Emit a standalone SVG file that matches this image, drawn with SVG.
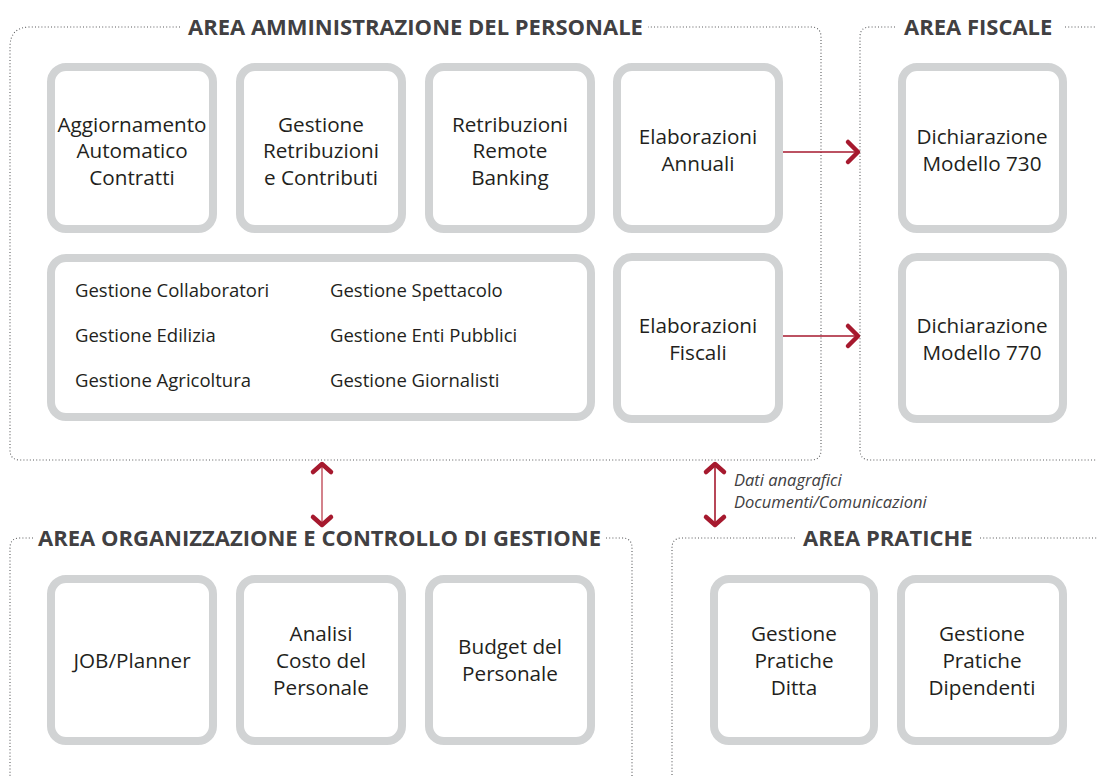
<svg xmlns="http://www.w3.org/2000/svg" width="1097" height="776" viewBox="0 0 1097 776">
<style>
.area{fill:none;stroke:#58595b;stroke-width:1.1;stroke-dasharray:1 2.2}
.title{font-family:"Open Sans","Noto Sans",sans-serif;font-weight:700;font-size:22px;fill:#414042}
.box{fill:#fff;stroke:#d1d3d4;stroke-width:8}
.t{font-family:"Open Sans","Noto Sans",sans-serif;font-size:20.7px;fill:#231f20;text-anchor:middle}
.s{font-family:"Open Sans","Noto Sans",sans-serif;font-size:18.5px;fill:#231f20}
.lbl{font-family:"Open Sans","Noto Sans",sans-serif;font-size:16.5px;font-style:italic;fill:#414042}
.ln{fill:none;stroke:#a6192e;stroke-width:1.6}
.ln2{fill:none;stroke:#c9636f;stroke-width:1.6}
.hd{fill:none;stroke:#a6192e;stroke-width:4.5;stroke-linecap:round;stroke-linejoin:round}
</style>
<rect width="1097" height="776" fill="#fff"/>
<g id="area-amministrazione">
<path class="area" d="M180,27 H30 Q10,27 10,47 V450 Q10,460 20,460 H811 Q821,460 821,450 V37 Q821,27 811,27 H648"/>
<text class="title" x="188" y="35">AREA AMMINISTRAZIONE DEL PERSONALE</text>
</g>
<g id="area-fiscale">
<path class="area" d="M895,27 H870 Q860,27 860,37 V450 Q860,460 870,460 H1097"/>
<path class="area" d="M1065,27 H1097"/>
<text class="title" x="904" y="35">AREA FISCALE</text>
</g>
<g id="area-organizzazione">
<path class="area" d="M33,538 H20 Q10,538 10,548 V776"/>
<path class="area" d="M606,538 H622 Q632,538 632,548 V776"/>
<text class="title" x="38" y="546">AREA ORGANIZZAZIONE E CONTROLLO DI GESTIONE</text>
</g>
<g id="area-pratiche">
<path class="area" d="M795,538 H682 Q672,538 672,548 V776"/>
<path class="area" d="M980,538 H1097"/>
<text class="title" x="803" y="546">AREA PRATICHE</text>
</g>
<g id="n-aggiornamento">
<rect class="box" x="51" y="67" width="162" height="162" rx="15"/>
<text class="t"><tspan x="132" y="132">Aggiornamento</tspan><tspan x="132" y="158">Automatico</tspan><tspan x="132" y="185">Contratti</tspan></text>
</g>
<g id="n-gestione-retribuzioni">
<rect class="box" x="240" y="67" width="162" height="162" rx="15"/>
<text class="t"><tspan x="321" y="132">Gestione</tspan><tspan x="321" y="158">Retribuzioni</tspan><tspan x="321" y="185">e Contributi</tspan></text>
</g>
<g id="n-retribuzioni-remote">
<rect class="box" x="429" y="67" width="162" height="162" rx="15"/>
<text class="t"><tspan x="510" y="132">Retribuzioni</tspan><tspan x="510" y="158">Remote</tspan><tspan x="510" y="185">Banking</tspan></text>
</g>
<g id="n-elab-annuali">
<rect class="box" x="617" y="67" width="162" height="162" rx="15"/>
<text class="t"><tspan x="698" y="144">Elaborazioni</tspan><tspan x="698" y="171">Annuali</tspan></text>
</g>
<g id="n-gestioni">
<rect class="box" x="51" y="258" width="540" height="159" rx="15"/>
<text class="s" x="75" y="297">Gestione Collaboratori</text>
<text class="s" x="75" y="342">Gestione Edilizia</text>
<text class="s" x="75" y="387">Gestione Agricoltura</text>
<text class="s" x="330" y="297">Gestione Spettacolo</text>
<text class="s" x="330" y="342">Gestione Enti Pubblici</text>
<text class="s" x="330" y="387">Gestione Giornalisti</text>
</g>
<g id="n-elab-fiscali">
<rect class="box" x="617" y="257" width="162" height="162" rx="15"/>
<text class="t"><tspan x="698" y="333">Elaborazioni</tspan><tspan x="698" y="360">Fiscali</tspan></text>
</g>
<g id="n-730">
<rect class="box" x="902" y="67" width="161" height="162" rx="15"/>
<text class="t"><tspan x="982" y="144">Dichiarazione</tspan><tspan x="982" y="171">Modello 730</tspan></text>
</g>
<g id="n-770">
<rect class="box" x="902" y="257" width="161" height="162" rx="15"/>
<text class="t"><tspan x="982" y="333">Dichiarazione</tspan><tspan x="982" y="360">Modello 770</tspan></text>
</g>
<g id="n-job">
<rect class="box" x="51" y="579" width="162" height="162" rx="15"/>
<text class="t" x="132" y="668">JOB/Planner</text>
</g>
<g id="n-analisi">
<rect class="box" x="240" y="579" width="162" height="162" rx="15"/>
<text class="t"><tspan x="321" y="641">Analisi</tspan><tspan x="321" y="668">Costo del</tspan><tspan x="321" y="695">Personale</tspan></text>
</g>
<g id="n-budget">
<rect class="box" x="429" y="579" width="162" height="162" rx="15"/>
<text class="t"><tspan x="510" y="654">Budget del</tspan><tspan x="510" y="681">Personale</tspan></text>
</g>
<g id="n-pratiche-ditta">
<rect class="box" x="714" y="579" width="160" height="162" rx="15"/>
<text class="t"><tspan x="794" y="641">Gestione</tspan><tspan x="794" y="668">Pratiche</tspan><tspan x="794" y="695">Ditta</tspan></text>
</g>
<g id="n-pratiche-dipendenti">
<rect class="box" x="901" y="579" width="162" height="162" rx="15"/>
<text class="t"><tspan x="982" y="641">Gestione</tspan><tspan x="982" y="668">Pratiche</tspan><tspan x="982" y="695">Dipendenti</tspan></text>
</g>
<g id="connectors">
<path class="ln" d="M783,152 H857"/>
<path class="hd" d="M848,142 L858,152 L848,162"/>
<path class="ln" d="M783,336 H857"/>
<path class="hd" d="M848,326 L858,336 L848,346"/>
<path class="ln2" d="M322,465 V524"/>
<path class="hd" d="M313,472 L322,464 L331,472"/>
<path class="hd" d="M313,517 L322,525 L331,517"/>
<path class="ln" d="M715,465 V524"/>
<path class="hd" d="M706,472 L715,464 L724,472"/>
<path class="hd" d="M706,517 L715,525 L724,517"/>
<text class="lbl" x="734" y="486">Dati anagrafici</text>
<text class="lbl" x="734" y="508">Documenti/Comunicazioni</text>
</g>
</svg>
